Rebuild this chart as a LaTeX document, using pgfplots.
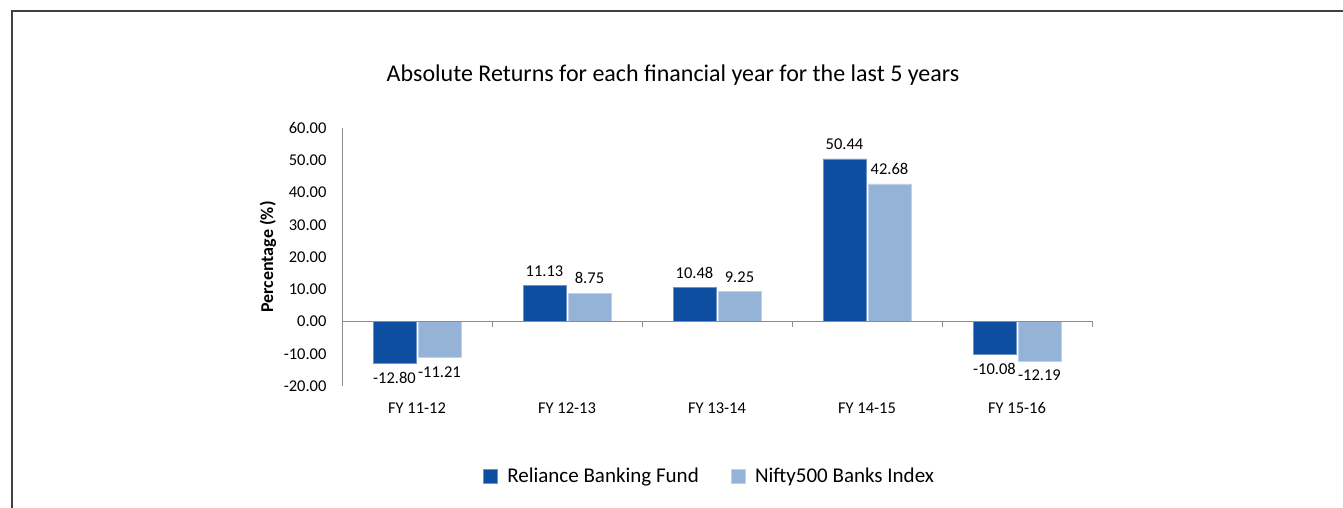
\documentclass[border=0pt]{standalone}
\usepackage{pgfplots}
\pgfplotsset{compat=1.18}
\usepackage{fontspec}
\setmainfont{Carlito}
\definecolor{darkb}{HTML}{0D4EA0}
\definecolor{lightb}{HTML}{95B3D7}
\definecolor{axgray}{HTML}{8C8C8C}
\begin{document}
\begin{tikzpicture}
\useasboundingbox (0,0) rectangle (1343pt,508pt);
\draw[line width=1.3pt, black!75] (12pt,0) -- (12pt,497pt) -- (1343pt,497pt);
\node[font=\fontsize{24}{28}\selectfont] at (673pt,433pt) {Absolute Returns for each financial year for the last 5 years};
\begin{axis}[
  at={(342pt,122pt)}, anchor=south west,
  scale only axis, width=750pt, height=258pt,
  xmin=-0.5, xmax=4.5, ymin=-20, ymax=60,
  ybar, bar width=43pt,
  axis x line*=bottom, axis y line*=left,
  x axis line style={draw=none},
  y axis line style={axgray, line width=0.8pt},
  xtick={0,1,2,3,4},
  xticklabels={FY 11-12, FY 12-13, FY 13-14, FY 14-15, FY 15-16},
  xtick style={draw=none},
  ytick={-20,-10,0,10,20,30,40,50,60},
  ytick style={draw=none},
  /pgf/number format/assume math mode=true,
  /pgf/number format/.cd, fixed, fixed zerofill, precision=2, /pgfplots/.cd,
  ticklabel style={font=\fontsize{16.5}{19}\selectfont},
  yticklabel style={xshift=-12pt},
  xticklabel style={yshift=-9pt},
  ylabel={Percentage (\%)},
  ylabel style={font=\fontsize{18}{21}\selectfont\bfseries, at={(axis description cs:-0.0987,0.5)}, anchor=center},
  nodes near coords,
  nodes near coords align={vertical},
  every node near coord/.append style={font=\fontsize{16.5}{19}\selectfont, black, inner ysep=9pt},
  legend style={at={(0.49,-0.349)}, anchor=center, draw=none, legend columns=2,
    font=\fontsize{21}{24}\selectfont, /tikz/every even column/.append style={column sep=30pt}},
  legend image code/.code={\fill[#1] (0pt,-7pt) rectangle (14pt,7pt); \path[draw=none,fill=none] (0pt,0pt) rectangle (22pt,1pt);},
  clip=false,
]
\addplot[fill=darkb, draw=darkb!60!white, line width=0.5pt] coordinates {(0,-12.80) (1,11.13) (2,10.48) (3,50.44) (4,-10.08)};
\addplot[fill=lightb, draw=lightb!60!white, line width=0.5pt] coordinates {(0,-11.21) (1,8.75) (2,9.25) (3,42.68) (4,-12.19)};
\legend{Reliance Banking Fund, Nifty500 Banks Index}
\draw[axgray, line width=0.8pt] (axis cs:-0.5,0) -- (axis cs:4.5,0);
\draw[axgray, line width=0.8pt] (axis cs:0.5,0) -- (axis cs:0.5,-1.6);
\draw[axgray, line width=0.8pt] (axis cs:1.5,0) -- (axis cs:1.5,-1.6);
\draw[axgray, line width=0.8pt] (axis cs:2.5,0) -- (axis cs:2.5,-1.6);
\draw[axgray, line width=0.8pt] (axis cs:3.5,0) -- (axis cs:3.5,-1.6);
\draw[axgray, line width=0.8pt] (axis cs:4.5,0) -- (axis cs:4.5,-1.6);
\end{axis}
\end{tikzpicture}
\end{document}
